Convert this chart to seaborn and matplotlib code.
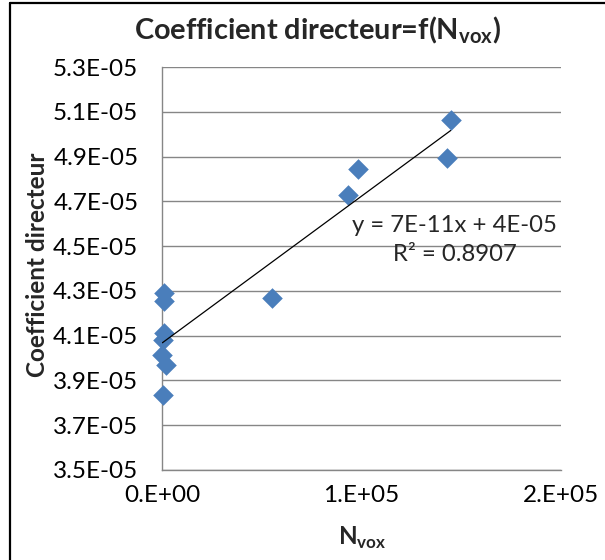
import matplotlib
matplotlib.use("Agg")
from matplotlib import pyplot as plt
from matplotlib.lines import Line2D
from matplotlib.ticker import FuncFormatter, FixedLocator
import pandas as pd
import seaborn as sns

# values
n_vox = [1000, 800, 1200, 700, 200, 2000, 500, 55300, 93000, 98000, 142700, 144700]
coef = [4.290e-05, 4.255e-05, 4.110e-05, 4.080e-05, 4.013e-05, 3.969e-05, 3.835e-05,
        4.268e-05, 4.728e-05, 4.844e-05, 4.893e-05, 5.063e-05]
x_ticks = [0, 1e5, 2e5]
y_ticks = [3.5e-05, 3.7e-05, 3.9e-05, 4.1e-05, 4.3e-05, 4.5e-05, 4.7e-05,
           4.9e-05, 5.1e-05, 5.3e-05]
trend_label = "y = 7E-11x + 4E-05"
r2_label = "R² = 0.8907"

df = pd.DataFrame({"N_vox": n_vox, "coef": coef})

sns.set_style("white")
plt.rcParams["font.family"] = ["Lato", "DejaVu Sans"]
plt.rcParams["mathtext.fontset"] = "custom"
plt.rcParams["mathtext.rm"] = "Lato"
plt.rcParams["mathtext.bf"] = "Lato:bold"

grey = "#868686"
blue = "#4A7EBB"

fig = plt.figure(figsize=(6.05, 5.6), dpi=100)
ax = fig.add_axes([162 / 605, 1 - 470 / 560, 399 / 605, 403 / 560])

sns.regplot(data=df, x="N_vox", y="coef", ax=ax, ci=None, truncate=True,
            marker="D", color=blue,
            scatter_kws={"s": 110, "linewidths": 0, "alpha": 1, "zorder": 3,
                         "clip_on": False},
            line_kws={"color": "black", "lw": 0.9, "zorder": 4})

ax.set_xlim(0, 2e5)
ax.set_ylim(3.5e-05, 5.3e-05)
ax.xaxis.set_major_locator(FixedLocator(x_ticks))
ax.yaxis.set_major_locator(FixedLocator(y_ticks))
ax.xaxis.set_major_formatter(FuncFormatter(lambda v, p: "{:#.0E}".format(v)))
ax.yaxis.set_major_formatter(FuncFormatter(lambda v, p: "{:.1E}".format(v)))

ax.grid(axis="y", color=grey, lw=1)
ax.set_axisbelow(True)
for s in ["top", "right"]:
    ax.spines[s].set_visible(False)
for s in ["left", "bottom"]:
    ax.spines[s].set_color(grey)
    ax.spines[s].set_linewidth(1)
ax.tick_params(axis="both", colors=grey, labelcolor="black", labelsize=17.5,
               length=6, width=1, direction="out")
ax.tick_params(axis="y", pad=11)
ax.tick_params(axis="x", pad=5)

ax.set_xlabel("")
ax.set_ylabel("")

ax.text(0.734, 0.6055, trend_label, transform=ax.transAxes, ha="center",
        va="center", fontsize=17.2)
ax.text(0.734, 0.5335, r2_label, transform=ax.transAxes, ha="center",
        va="center", fontsize=17.2)

fig.text(317 / 605, 1 - 30 / 560, r"Coefficient directeur=f(N$_{\mathregular{vox}}$)",
         ha="center", va="center", fontsize=20.8, fontweight="bold")
fig.text(362 / 605, 1 - 538 / 560, r"N$_{\mathregular{vox}}$",
         ha="center", va="center", fontsize=17.5, fontweight="bold")
fig.text(38 / 605, 1 - 265 / 560, "Coefficient directeur", rotation=90,
         ha="center", va="center", fontsize=17.5, fontweight="bold")

# chart frame (left and top edges visible in the reference)
fig.add_artist(Line2D([10 / 605, 10 / 605], [0, 1 - 3 / 560], color="black",
                      lw=1.6, transform=fig.transFigure))
fig.add_artist(Line2D([10 / 605, 1], [1 - 3 / 560, 1 - 3 / 560], color="black",
                      lw=1.6, transform=fig.transFigure))

fig.savefig("out.png", dpi=100)
